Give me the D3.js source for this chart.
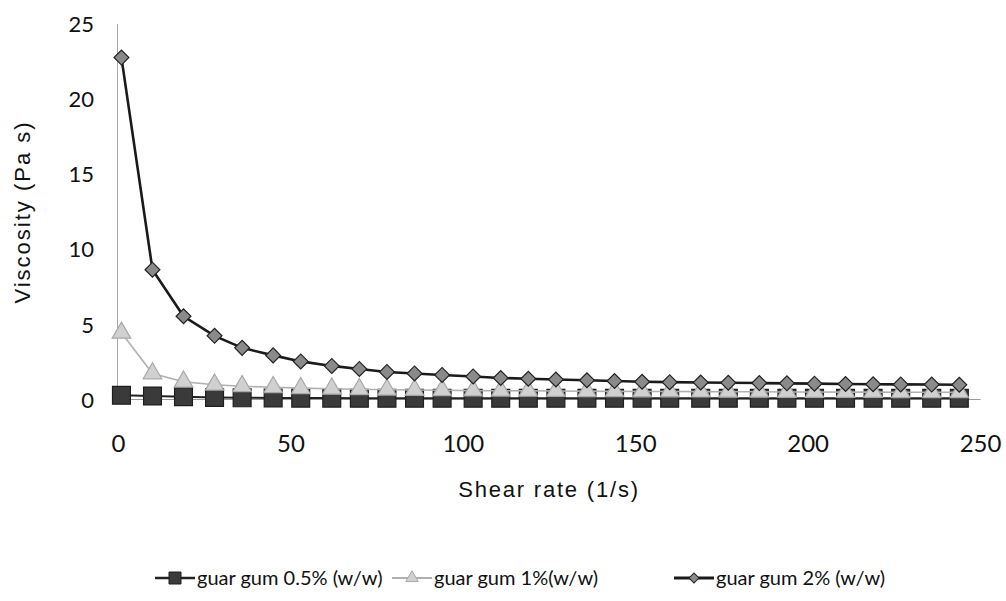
<!DOCTYPE html>
<html>
<head>
<meta charset="utf-8">
<script src="https://cdn.jsdelivr.net/npm/d3@7"></script>
<style>
  body { margin: 0; background: #fff; }
  svg { display: block; }
</style>
</head>
<body>
<svg id="chart"></svg>
<script>
// shear rate (1/s)
const shearRate = [1, 10, 19, 28, 36, 45, 53, 62, 70, 78, 86, 94, 103, 111, 119,
    127, 136, 144, 152, 160, 169, 177, 186, 194, 202, 211, 219, 227, 236, 244];

// viscosity (Pa s)
const gum05 = [0.25, 0.2, 0.15, 0.1, 0.08, 0.07, 0.06, 0.06, 0.05, 0.05, 0.05, 0.05, 0.05, 0.05, 0.05,
    0.05, 0.05, 0.05, 0.05, 0.05, 0.05, 0.05, 0.05, 0.05, 0.05, 0.05, 0.05, 0.05, 0.05, 0.05];
const gum1 = [4.4, 1.7, 1.15, 0.95, 0.85, 0.78, 0.72, 0.68, 0.65, 0.62, 0.6, 0.58, 0.56, 0.55, 0.54,
    0.53, 0.52, 0.51, 0.5, 0.5, 0.49, 0.48, 0.48, 0.47, 0.47, 0.46, 0.46, 0.45, 0.45, 0.44];
const gum2 = [22.7, 8.6, 5.5, 4.2, 3.4, 2.9, 2.5, 2.2, 2.0, 1.8, 1.7, 1.6, 1.5, 1.4, 1.35,
    1.3, 1.25, 1.2, 1.15, 1.12, 1.1, 1.08, 1.06, 1.04, 1.02, 1.0, 0.98, 0.97, 0.96, 0.95];

const xTicks = [0, 50, 100, 150, 200, 250];
const yTicks = [0, 5, 10, 15, 20, 25];
const seriesNames = ["guar gum 0.5% (w/w)", "guar gum 1%(w/w)", "guar gum 2% (w/w)"];

const width = 1006, height = 601;

const svg = d3.select("#chart").attr("width", width).attr("height", height);

const x = d3.scaleLinear().domain([0, 250]).range([118, 980]);
const y = d3.scaleLinear().domain([0, 25]).range([399, 23]);

// series styles
const styles = [
    { values: gum05, line: "#222", lw: 2, sym: d3.symbolSquare, size: 320, fill: "#3a3a3a", stroke: "#1e1e1e", rot: 0 },
    { values: gum1, line: "#b0b0b0", lw: 1.6, sym: d3.symbolTriangle, size: 150, fill: "#d0d0d0", stroke: "#a8a8a8", rot: 0 },
    { values: gum2, line: "#1a1a1a", lw: 2.6, sym: d3.symbolSquare, size: 110, fill: "#8a8a8a", stroke: "#222", rot: 45 }
];

// axes
const xAxis = svg.append("g")
    .attr("transform", `translate(0,${y(0)})`)
    .call(d3.axisBottom(x).tickValues(xTicks).tickSize(0).tickPadding(36));
xAxis.select(".domain").attr("stroke", "#999").attr("stroke-width", 1);
xAxis.selectAll("text")
    .style("font-family", "Lato, 'Open Sans', sans-serif")
    .style("font-size", "24px")
    .attr("fill", "#111");

const yAxis = svg.append("g")
    .attr("transform", `translate(${x(0) - 1},0)`)
    .call(d3.axisLeft(y).tickValues(yTicks).tickSize(0).tickPadding(23));
yAxis.select(".domain").attr("stroke", "#555").attr("stroke-width", 1).attr("stroke-dasharray", "1,1");
yAxis.selectAll("text")
    .attr("dy", "0.38em")
    .style("font-family", "Lato, 'Open Sans', sans-serif")
    .style("font-size", "22px")
    .attr("fill", "#111");

// lines and markers
const line = d3.line().x((d, i) => x(shearRate[i])).y(d => y(d));

styles.forEach(s => {
    svg.append("path")
        .datum(s.values)
        .attr("fill", "none")
        .attr("stroke", s.line)
        .attr("stroke-width", s.lw)
        .attr("d", line);

    svg.append("g").selectAll("path")
        .data(s.values)
        .join("path")
        .attr("d", d3.symbol(s.sym, s.size))
        .attr("transform", (d, i) => `translate(${x(shearRate[i])},${y(d)}) rotate(${s.rot})`)
        .attr("fill", s.fill)
        .attr("stroke", s.stroke)
        .attr("stroke-width", 1.2);
});

// axis titles
svg.append("text")
    .attr("x", 549).attr("y", 497)
    .attr("text-anchor", "middle")
    .style("font-family", "'Liberation Sans', Arial, sans-serif")
    .style("font-size", "22px")
    .style("letter-spacing", "1.8px")
    .attr("fill", "#111")
    .text("Shear rate (1/s)");

svg.append("text")
    .attr("transform", "translate(30,212) rotate(-90)")
    .attr("text-anchor", "middle")
    .style("font-family", "'Liberation Sans', Arial, sans-serif")
    .style("font-size", "22px")
    .style("letter-spacing", "2px")
    .attr("fill", "#111")
    .text("Viscosity (Pa s)");

// legend
const legendX = [155, 392, 674];
const legend = svg.append("g").attr("transform", "translate(0,578)");
styles.forEach((s, i) => {
    const g = legend.append("g").attr("transform", `translate(${legendX[i]},0)`);
    g.append("line")
        .attr("x1", 0).attr("x2", 40)
        .attr("stroke", s.line).attr("stroke-width", s.lw + 0.5);
    g.append("path")
        .attr("d", d3.symbol(s.sym, s.size * 0.45))
        .attr("transform", `translate(20,0) rotate(${s.rot})`)
        .attr("fill", s.fill)
        .attr("stroke", s.stroke);
    g.append("text")
        .attr("x", 42).attr("dy", "0.35em")
        .style("font-family", "Lato, 'Open Sans', sans-serif")
        .style("font-size", "20px")
        .attr("fill", "#111")
        .text(seriesNames[i]);
});
</script>
</body>
</html>
